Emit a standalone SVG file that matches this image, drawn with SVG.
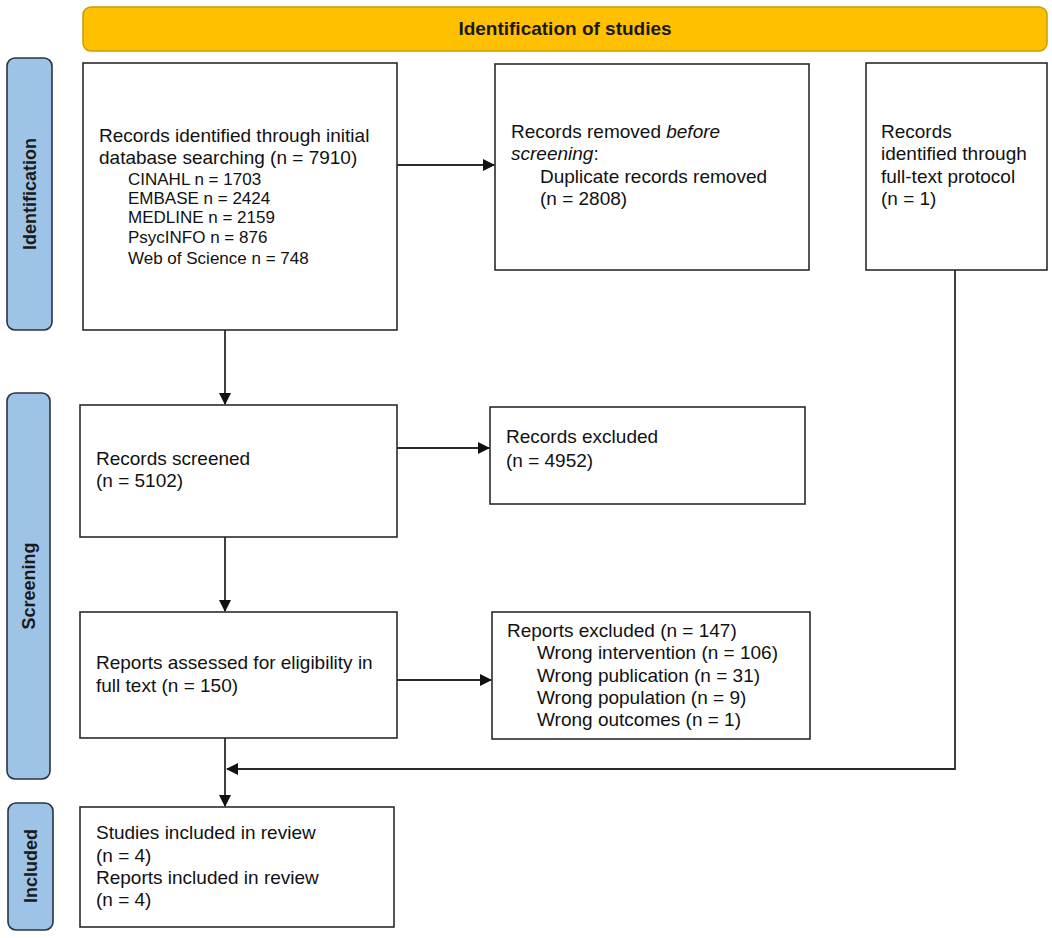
<svg xmlns="http://www.w3.org/2000/svg" width="1052" height="938" viewBox="0 0 1052 938">
<style>
.box{fill:#fff;stroke:#2b2b2b;stroke-width:1.6}
.tab{fill:#9DC3E6;stroke:#2a3440;stroke-width:1.6}
.t{font-family:"Liberation Sans",Arial,sans-serif;font-size:19px;fill:#111}
.s{font-family:"Liberation Sans",Arial,sans-serif;font-size:17px;fill:#111}
.tl{font-family:"Liberation Sans",Arial,sans-serif;font-size:18px;font-weight:bold;fill:#1a1a1a;text-anchor:middle}
.ln{fill:none;stroke:#2b2b2b;stroke-width:1.8}
</style>
<defs>
<marker id="ah" markerWidth="12" markerHeight="12" refX="11" refY="6" orient="auto" markerUnits="userSpaceOnUse">
<path d="M0,0 L12,6 L0,12 Z" fill="#111"/>
</marker>
</defs>
<rect width="1052" height="938" fill="#fff"/>
<g id="header">
<rect x="83" y="7" width="964" height="44" rx="8" fill="#FFC000" stroke="#C99A06" stroke-width="1.5"/>
<text x="565" y="35" class="tl" style="font-size:19px">Identification of studies</text>
</g>
<g id="tab-identification">
<rect class="tab" x="7" y="58" width="45" height="272" rx="8"/>
<text class="tl" transform="translate(36,194) rotate(-90)">Identification</text>
</g>
<g id="tab-screening">
<rect class="tab" x="7" y="393" width="43" height="386" rx="8"/>
<text class="tl" transform="translate(35,586) rotate(-90)">Screening</text>
</g>
<g id="tab-included">
<rect class="tab" x="8" y="803" width="45" height="127" rx="8"/>
<text class="tl" transform="translate(36.5,866) rotate(-90)">Included</text>
</g>
<g id="n-identified">
<rect class="box" x="83" y="63" width="314" height="267"/>
<text class="t" x="99" y="142">Records identified through initial</text>
<text class="t" x="99" y="164">database searching (n = 7910)</text>
<text class="s" x="128" y="185">CINAHL n = 1703</text>
<text class="s" x="128" y="204">EMBASE n = 2424</text>
<text class="s" x="128" y="223">MEDLINE n = 2159</text>
<text class="s" x="128" y="243">PsycINFO n = 876</text>
<text class="s" x="128" y="264">Web of Science n = 748</text>
</g>
<g id="n-removed">
<rect class="box" x="495" y="64" width="314" height="206"/>
<text class="t" x="511" y="138">Records removed <tspan font-style="italic">before</tspan></text>
<text class="t" x="511" y="160"><tspan font-style="italic">screening</tspan>:</text>
<text class="t" x="540" y="183">Duplicate records removed</text>
<text class="t" x="540" y="205">(n = 2808)</text>
</g>
<g id="n-fulltext-protocol">
<rect class="box" x="866" y="63" width="181" height="207"/>
<text class="t" x="881" y="138">Records</text>
<text class="t" x="881" y="160">identified through</text>
<text class="t" x="881" y="183">full-text protocol</text>
<text class="t" x="881" y="205">(n = 1)</text>
</g>
<g id="n-screened">
<rect class="box" x="80" y="405" width="317" height="132"/>
<text class="t" x="96" y="465">Records screened</text>
<text class="t" x="96" y="487">(n = 5102)</text>
</g>
<g id="n-records-excluded">
<rect class="box" x="490" y="407" width="315" height="97"/>
<text class="t" x="506" y="443">Records excluded</text>
<text class="t" x="506" y="467">(n = 4952)</text>
</g>
<g id="n-assessed">
<rect class="box" x="80" y="612" width="317" height="126"/>
<text class="t" x="96" y="669">Reports assessed for eligibility in</text>
<text class="t" x="96" y="692">full text (n = 150)</text>
</g>
<g id="n-reports-excluded">
<rect class="box" x="492" y="612" width="318" height="127"/>
<text class="t" x="507" y="637">Reports excluded (n = 147)</text>
<text class="t" x="537" y="659">Wrong intervention (n = 106)</text>
<text class="t" x="537" y="682">Wrong publication (n = 31)</text>
<text class="t" x="537" y="704">Wrong population (n = 9)</text>
<text class="t" x="537" y="726">Wrong outcomes (n = 1)</text>
</g>
<g id="n-included">
<rect class="box" x="80" y="807" width="314" height="120"/>
<text class="t" x="96" y="839">Studies included in review</text>
<text class="t" x="96" y="862">(n = 4)</text>
<text class="t" x="96" y="884">Reports included in review</text>
<text class="t" x="96" y="906">(n = 4)</text>
</g>
<g id="connectors">
<line class="ln" x1="397" y1="165" x2="494" y2="165" marker-end="url(#ah)"/>
<line class="ln" x1="225" y1="330" x2="225" y2="404" marker-end="url(#ah)"/>
<line class="ln" x1="397" y1="448" x2="489" y2="448" marker-end="url(#ah)"/>
<line class="ln" x1="225" y1="537" x2="225" y2="611" marker-end="url(#ah)"/>
<line class="ln" x1="397" y1="680" x2="491" y2="680" marker-end="url(#ah)"/>
<line class="ln" x1="225" y1="738" x2="225" y2="806" marker-end="url(#ah)"/>
<polyline class="ln" points="955,270 955,769 227,769" marker-end="url(#ah)"/>
</g>
</svg>
